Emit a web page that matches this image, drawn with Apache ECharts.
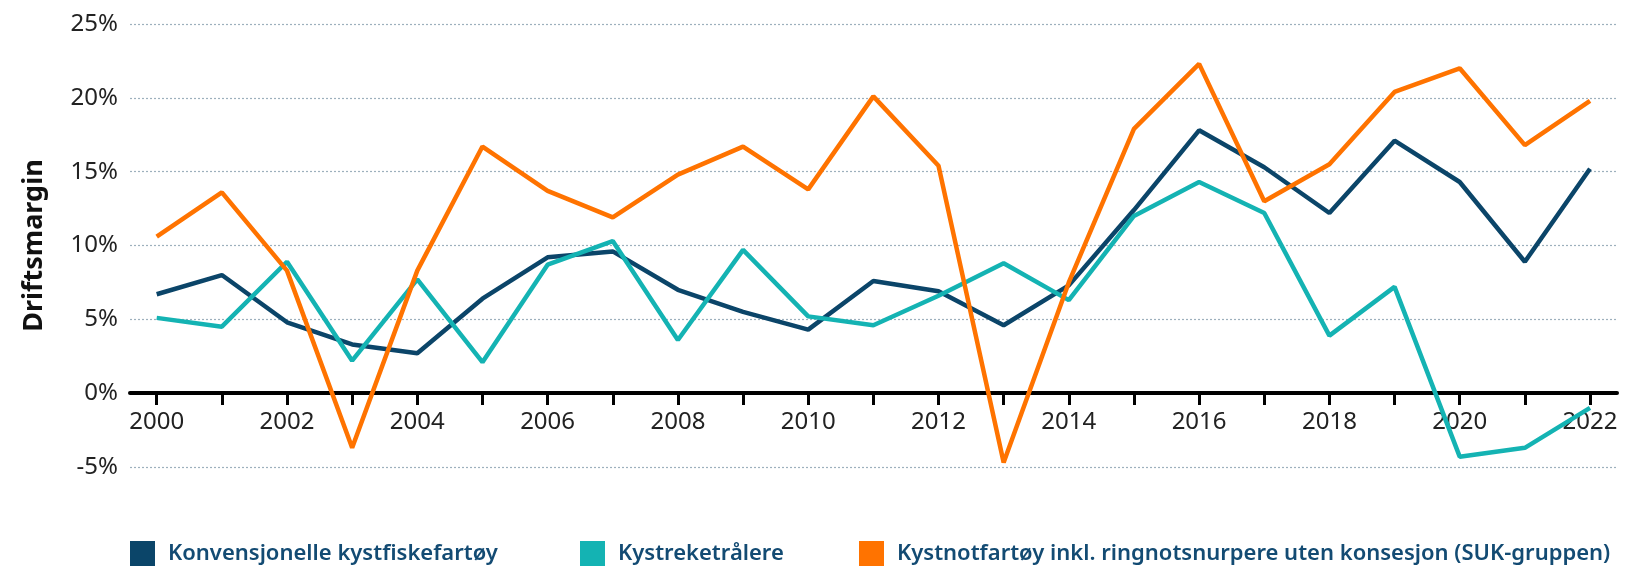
<!DOCTYPE html>
<html>
<head>
<meta charset="utf-8">
<script src="https://cdn.jsdelivr.net/npm/echarts@6/dist/echarts.min.js"></script>
<style>
html,body{margin:0;padding:0;background:#fff;}
#chart{width:1630px;height:566px;}
</style>
</head>
<body>
<div id="chart"></div>
<script>
const years = ['2000','2001','2002','2003','2004','2005','2006','2007','2008','2009','2010','2011','2012','2013','2014','2015','2016','2017','2018','2019','2020','2021','2022'];
const seriesNames = ['Konvensjonelle kystfiskefartøy','Kystreketrålere','Kystnotfartøy inkl. ringnotsnurpere uten konsesjon (SUK-gruppen)'];
const konvensjonelle = [6.7, 8.0, 4.8, 3.3, 2.7, 6.4, 9.2, 9.6, 7.0, 5.5, 4.3, 7.6, 6.9, 4.6, 7.3, 12.4, 17.8, 15.3, 12.2, 17.1, 14.3, 8.9, 15.2];
const kystreketralere = [5.1, 4.5, 8.9, 2.2, 7.7, 2.1, 8.7, 10.3, 3.6, 9.7, 5.2, 4.6, 6.6, 8.8, 6.3, 12.0, 14.3, 12.2, 3.9, 7.2, -4.3, -3.7, -1.0];
const kystnot = [10.6, 13.6, 8.3, -3.7, 8.3, 16.7, 13.7, 11.9, 14.8, 16.7, 13.8, 20.1, 15.4, -4.7, 7.5, 17.9, 22.3, 13.0, 15.5, 20.4, 22.0, 16.8, 19.8];
const yMin = -5, yMax = 25, yStep = 5;
const colors = ['#0b4569', '#14b3b3', '#ff7300'];

const FONT = '"Noto Sans", sans-serif';
const chart = echarts.init(document.getElementById('chart'));

function legendFor(i, left) {
  return {
    data: [seriesNames[i]],
    left: left, top: 541, padding: 0,
    icon: 'rect', itemWidth: 25, itemHeight: 25,
    textStyle: {color: '#134b73', fontSize: 22, fontWeight: 600, fontFamily: FONT, padding: [0,0,0,8]}
  };
}

chart.setOption({
  animation: false,
  backgroundColor: '#fff',
  legend: [legendFor(0, 130), legendFor(1, 580), legendFor(2, 859)],
  grid: [
    {left: 156.7, right: 40, top: 24, bottom: 99},
    {left: 130, right: 13, top: 24, bottom: 99},
    {left: 156.7, right: 40, top: 24, bottom: 173}
  ],
  xAxis: [
    {
      type: 'category', gridIndex: 0, data: years, boundaryGap: false, show: false
    },
    {
      type: 'value', gridIndex: 1, min: 0, max: 1, show: true,
      axisLine: {show: true, onZero: true, lineStyle: {color: '#000', width: 4}},
      axisTick: {show: false}, axisLabel: {show: false}, splitLine: {show: false}
    },
    {
      type: 'category', gridIndex: 2, data: years, boundaryGap: false, position: 'bottom',
      axisLine: {show: false, onZero: false},
      axisTick: {show: true, interval: 0, length: 12, lineStyle: {color: '#000', width: 3}},
      axisLabel: {interval: 1, margin: 17, color: '#222', fontSize: 24, fontFamily: FONT},
      splitLine: {show: false}
    }
  ],
  yAxis: [
    {type: 'value', gridIndex: 0, min: yMin, max: yMax, interval: yStep, show: false, splitLine: {show: false}},
    {
      type: 'value', gridIndex: 1, min: yMin, max: yMax, interval: yStep,
      name: 'Driftsmargin', nameLocation: 'middle', nameGap: 82, nameRotate: 90,
      nameTextStyle: {color: '#111', fontSize: 27, fontWeight: 'bold', fontFamily: FONT},
      axisLine: {show: false}, axisTick: {show: false},
      axisLabel: {formatter: '{value}%', margin: 12, color: '#222', fontSize: 24, fontFamily: FONT},
      splitLine: {show: true, lineStyle: {color: '#9db0bd', width: 1.2, type: [2, 2]}}
    },
    {type: 'value', gridIndex: 2, min: 0, max: 1, show: false, splitLine: {show: false}}
  ],
  series: [
    {name: seriesNames[0], type: 'line', data: konvensjonelle, xAxisIndex: 0, yAxisIndex: 0, symbol: 'none', color: colors[0], lineStyle: {width: 4.5, color: colors[0]}},
    {name: seriesNames[1], type: 'line', data: kystreketralere, xAxisIndex: 0, yAxisIndex: 0, symbol: 'none', color: colors[1], lineStyle: {width: 4.5, color: colors[1]}},
    {name: seriesNames[2], type: 'line', data: kystnot, xAxisIndex: 0, yAxisIndex: 0, symbol: 'none', color: colors[2], lineStyle: {width: 4.5, color: colors[2]}}
  ]
});
</script>
</body>
</html>
